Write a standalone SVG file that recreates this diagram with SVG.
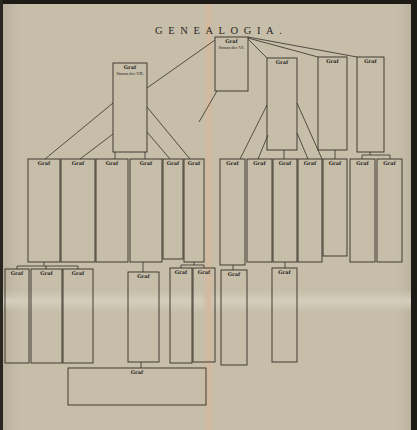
<svg xmlns="http://www.w3.org/2000/svg" width="417" height="430" viewBox="0 0 417 430">
<defs>
<linearGradient id="fold" x1="0" x2="1" y1="0" y2="0">
<stop offset="0" stop-color="#c6bea9" stop-opacity="0"/>
<stop offset="0.5" stop-color="#d6b89c"/>
<stop offset="1" stop-color="#c6bea9" stop-opacity="0"/>
</linearGradient>
<linearGradient id="hfold" x1="0" x2="0" y1="0" y2="1">
<stop offset="0" stop-color="#d4cebd" stop-opacity="0"/>
<stop offset="0.5" stop-color="#d4cebd"/>
<stop offset="1" stop-color="#d4cebd" stop-opacity="0"/>
</linearGradient>
<linearGradient id="edge" x1="0" x2="1" y1="0" y2="0">
<stop offset="0" stop-color="#b3ab98"/>
<stop offset="0.06" stop-color="#c6bea9" stop-opacity="0"/>
<stop offset="0.94" stop-color="#c6bea9" stop-opacity="0"/>
<stop offset="1" stop-color="#b3ab98"/>
</linearGradient>
</defs>
<style>
.box{fill:none;stroke:#342f27;stroke-width:0.9}
.con{fill:none;stroke:#342f27;stroke-width:0.8}
.hd{font-family:"DejaVu Serif","Liberation Serif",serif;font-weight:bold;font-size:5px;fill:#26221c;text-anchor:middle}
.nm{font-family:"Liberation Serif",serif;font-size:4.6px;fill:#26221c;text-anchor:middle}
.title{font-family:"Liberation Serif",serif;font-size:10.5px;fill:#2a251f;letter-spacing:5.6px}
</style>
<rect width="417" height="430" fill="#c6bea9"/>
<rect width="417" height="430" fill="url(#edge)"/>
<rect x="0" y="290" width="417" height="22" fill="url(#hfold)"/>
<rect x="201" y="4" width="15" height="426" fill="url(#fold)"/>
<rect x="0" y="0" width="417" height="4" fill="#1e1b17"/>
<rect x="0" y="0" width="3" height="430" fill="#2a2620"/>
<rect x="411" y="0" width="6" height="430" fill="#1e1b17"/>

<text class="title" x="155" y="34">GENEALOGIA.</text>

<g id="connectors">
<path class="con" d="M215,40 L147,88"/>
<path class="con" d="M113,103 L45,159"/>
<path class="con" d="M113,134 L80,159"/>
<path class="con" d="M115,152 V159 M145,152 V159"/>
<path class="con" d="M147,107 L190,159"/>
<path class="con" d="M147,132 L170,159"/>
<path class="con" d="M217,91 L199,122"/>
<path class="con" d="M248,39 L267,58"/>
<path class="con" d="M248,38 L318,57"/>
<path class="con" d="M248,37 L357,57"/>
<path class="con" d="M267,105 L240,159"/>
<path class="con" d="M268,135 L258,159"/>
<path class="con" d="M284,150 V159"/>
<path class="con" d="M297,103 L322,159"/>
<path class="con" d="M297,133 L308,159"/>
<path class="con" d="M335,150 V159"/>
<path class="con" d="M370,152 V155 M362,155 H390 M362,155 V159 M390,155 V159"/>
<path class="con" d="M44,262 V266 M17,266 H78 M17,266 V269 M46,266 V269 M78,266 V269"/>
<path class="con" d="M143,262 V272"/>
<path class="con" d="M194,262 V265 M181,265 H204 M181,265 V268 M204,265 V268"/>
<path class="con" d="M233,265 V270"/>
<path class="con" d="M285,262 V268"/>
<path class="con" d="M141,362 V368"/>
</g>

<g id="n-root"><rect class="box" x="215" y="37" width="33" height="54"/><text class="hd" x="231.5" y="43">Graf</text><text class="nm" x="231.5" y="49">Simon der VI.</text></g>
<g id="n-simon7"><rect class="box" x="113" y="63" width="34" height="89"/><text class="hd" x="130" y="69">Graf</text><text class="nm" x="130" y="75">Simon der VII.</text></g>
<g id="n-otto"><rect class="box" x="267" y="58" width="30" height="92"/><text class="hd" x="282" y="64">Graf</text></g>
<g id="n-b3"><rect class="box" x="318" y="57" width="29" height="93"/><text class="hd" x="332.5" y="63">Graf</text></g>
<g id="n-b4"><rect class="box" x="357" y="57" width="27" height="95"/><text class="hd" x="370.5" y="63">Graf</text></g>

<g id="n-l1"><rect class="box" x="28" y="159" width="32" height="103"/><text class="hd" x="44" y="165">Graf</text></g>
<g id="n-l2"><rect class="box" x="61" y="159" width="34" height="103"/><text class="hd" x="78" y="165">Graf</text></g>
<g id="n-l3"><rect class="box" x="96" y="159" width="32" height="103"/><text class="hd" x="112" y="165">Graf</text></g>
<g id="n-l4"><rect class="box" x="130" y="159" width="32" height="103"/><text class="hd" x="146" y="165">Graf</text></g>
<g id="n-l5"><rect class="box" x="163" y="159" width="20" height="100"/><text class="hd" x="173" y="165">Graf</text></g>
<g id="n-l6"><rect class="box" x="184" y="159" width="20" height="103"/><text class="hd" x="194" y="165">Graf</text></g>

<g id="n-r1"><rect class="box" x="220" y="159" width="25" height="106"/><text class="hd" x="232.5" y="165">Graf</text></g>
<g id="n-r2"><rect class="box" x="247" y="159" width="25" height="103"/><text class="hd" x="259.5" y="165">Graf</text></g>
<g id="n-r3"><rect class="box" x="273" y="159" width="24" height="103"/><text class="hd" x="285" y="165">Graf</text></g>
<g id="n-r4"><rect class="box" x="298" y="159" width="24" height="103"/><text class="hd" x="310" y="165">Graf</text></g>
<g id="n-r5"><rect class="box" x="323" y="159" width="24" height="97"/><text class="hd" x="335" y="165">Graf</text></g>
<g id="n-r6"><rect class="box" x="350" y="159" width="25" height="103"/><text class="hd" x="362.5" y="165">Graf</text></g>
<g id="n-r7"><rect class="box" x="377" y="159" width="25" height="103"/><text class="hd" x="389.5" y="165">Graf</text></g>

<g id="n-t1"><rect class="box" x="5" y="269" width="24" height="94"/><text class="hd" x="17" y="275">Graf</text></g>
<g id="n-t2"><rect class="box" x="31" y="269" width="31" height="94"/><text class="hd" x="46.5" y="275">Graf</text></g>
<g id="n-t3"><rect class="box" x="63" y="269" width="30" height="94"/><text class="hd" x="78" y="275">Graf</text></g>
<g id="n-t4"><rect class="box" x="128" y="272" width="31" height="90"/><text class="hd" x="143.5" y="278">Graf</text></g>
<g id="n-t5"><rect class="box" x="170" y="268" width="22" height="95"/><text class="hd" x="181" y="274">Graf</text></g>
<g id="n-t6"><rect class="box" x="193" y="268" width="22" height="94"/><text class="hd" x="204" y="274">Graf</text></g>
<g id="n-t7"><rect class="box" x="221" y="270" width="26" height="95"/><text class="hd" x="234" y="276">Graf</text></g>
<g id="n-t8"><rect class="box" x="272" y="268" width="25" height="94"/><text class="hd" x="284.5" y="274">Graf</text></g>

<g id="n-bottom"><rect class="box" x="68" y="368" width="138" height="37"/><text class="hd" x="137" y="374">Graf</text></g>
</svg>
